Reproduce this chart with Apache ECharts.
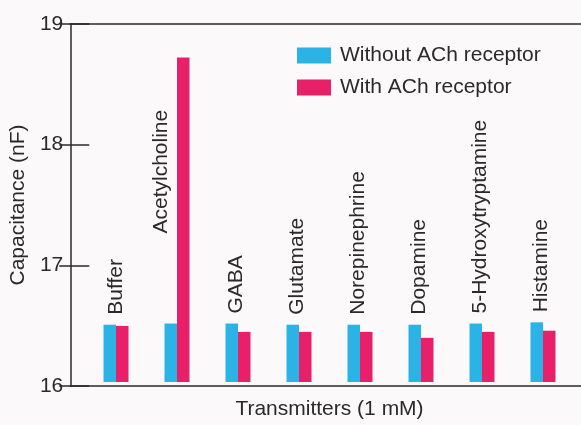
<!DOCTYPE html>
<html>
<head>
<meta charset="utf-8">
<script src="https://cdn.jsdelivr.net/npm/echarts@6/dist/echarts.min.js"></script>
<style>
  html, body { margin: 0; padding: 0; background: #fcf9fb; }
  #chart { width: 581px; height: 425px; }
</style>
</head>
<body>
<div id="chart"></div>
<script>
// Membrane capacitance after applying each transmitter (1 mM)
const transmitters = ['Buffer', 'Acetylcholine', 'GABA', 'Glutamate', 'Norepinephrine', 'Dopamine', '5-Hydroxytryptamine', 'Histamine'];
const withoutReceptor = [16.48, 16.49, 16.49, 16.48, 16.48, 16.48, 16.49, 16.50];
const withReceptor = [16.47, 18.72, 16.42, 16.42, 16.42, 16.37, 16.42, 16.43];
const yTicks = [16, 17, 18, 19];

const FONT = 'Liberation Sans';
const INK = '#2a2a2a';
const CYAN = '#2bb3e6';
const PINK = '#e8206a';

const chart = echarts.init(document.getElementById('chart'), null, { renderer: 'canvas' });

// Names sit above the blue bars; Acetylcholine is lifted clear of its tall partner.
// The label is rotated, so offset[1] moves it sideways on screen.
const labelFor = (name) => {
  if (name === 'Acetylcholine') return { distance: 90, offset: [0, -10] };
  if (name === 'Buffer') return { distance: 10, offset: [0, 6] };
  return { distance: 10, offset: [0, 4] };
};

chart.setOption({
  backgroundColor: '#fcf9fb',
  animation: false,
  textStyle: { fontFamily: FONT, color: INK },
  legend: {
    orient: 'vertical',
    left: 292,
    top: 40,
    itemWidth: 34,
    itemHeight: 16,
    itemGap: 11,
    icon: 'rect',
    textStyle: { fontFamily: FONT, fontSize: 21, color: INK, padding: [0, 0, 0, 4] },
    data: ['Without ACh receptor', 'With ACh receptor']
  },
  grid: [
    { left: 70, right: 0, top: 24, bottom: 39 },
    { left: 85.5, width: 488, top: 24, bottom: 39 }
  ],
  xAxis: [
    { gridIndex: 0, type: 'value', min: 0, max: 1, position: 'bottom',
      axisLine: { show: true, lineStyle: { color: INK, width: 1.5 } },
      axisTick: { show: false }, axisLabel: { show: false }, splitLine: { show: false } },
    { gridIndex: 0, type: 'value', min: 0, max: 1, position: 'top',
      axisLine: { show: true, lineStyle: { color: INK, width: 1.5 } },
      axisTick: { show: false }, axisLabel: { show: false }, splitLine: { show: false } },
    { gridIndex: 1, type: 'category', data: transmitters,
      name: 'Transmitters (1 mM)', nameLocation: 'middle', nameGap: 17,
      nameTextStyle: { fontFamily: FONT, fontSize: 21, color: INK },
      axisLine: { show: false }, axisTick: { show: false }, axisLabel: { show: false } }
  ],
  yAxis: [
    { gridIndex: 0, type: 'value', min: yTicks[0], max: yTicks[yTicks.length - 1], interval: 1,
      position: 'left',
      name: 'Capacitance (nF)', nameLocation: 'middle', nameGap: 35,
      nameTextStyle: { fontFamily: FONT, fontSize: 21, color: INK },
      axisLine: { show: true, lineStyle: { color: INK, width: 1.5 } },
      axisTick: { show: true, inside: true, length: 19, lineStyle: { color: INK, width: 1.5 } },
      axisLabel: { fontFamily: FONT, fontSize: 21, color: INK, margin: 7 },
      splitLine: { show: false } },
    { gridIndex: 0, type: 'value', min: yTicks[0], max: yTicks[yTicks.length - 1], interval: 1,
      position: 'right',
      axisLine: { show: false },
      axisTick: { show: true, inside: true, length: 11, lineStyle: { color: INK, width: 1.5 } },
      axisLabel: { show: false }, splitLine: { show: false } },
    { gridIndex: 1, type: 'value', min: yTicks[0], max: yTicks[yTicks.length - 1],
      show: false }
  ],
  series: [
    {
      name: 'Without ACh receptor', type: 'bar', xAxisIndex: 2, yAxisIndex: 2,
      barWidth: 12.5, barGap: '0%',
      itemStyle: { color: CYAN },
      data: withoutReceptor.map((v, i) => ({
        value: v,
        label: Object.assign({
          show: true, position: 'top', rotate: 90, align: 'left', verticalAlign: 'middle',
          formatter: transmitters[i], fontFamily: FONT, fontSize: 21, color: INK
        }, labelFor(transmitters[i]))
      }))
    },
    {
      name: 'With ACh receptor', type: 'bar', xAxisIndex: 2, yAxisIndex: 2,
      barWidth: 12.5, barGap: '0%',
      itemStyle: { color: PINK },
      data: withReceptor
    }
  ]
});
</script>
</body>
</html>
